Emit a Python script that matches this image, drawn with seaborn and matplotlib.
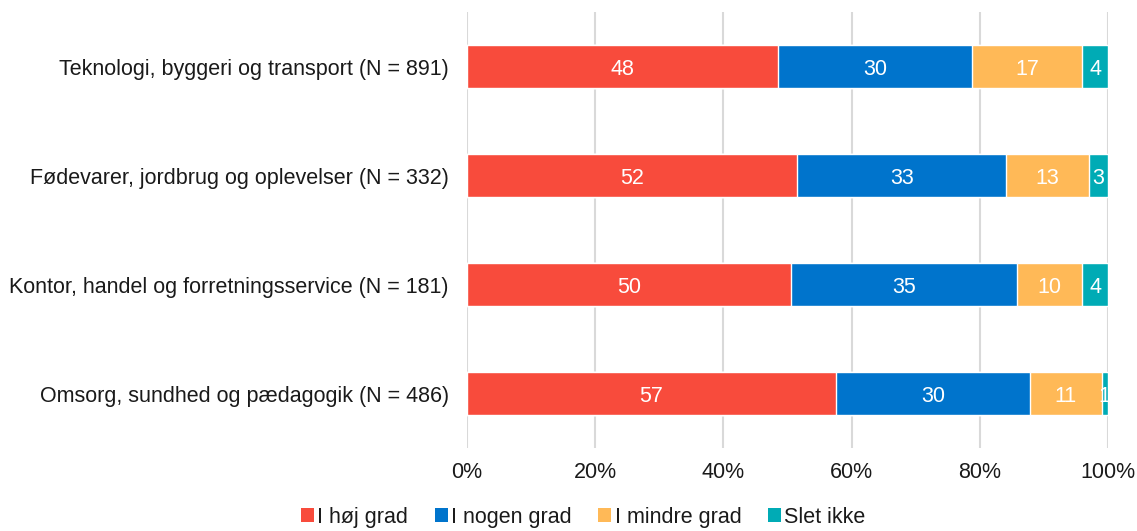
import numpy as np
import pandas as pd
import matplotlib
matplotlib.use("Agg")
import matplotlib.pyplot as plt
import seaborn as sns
from matplotlib.patches import Patch

categories = [
    "Teknologi, byggeri og transport (N = 891)",
    "Fødevarer, jordbrug og oplevelser (N = 332)",
    "Kontor, handel og forretningsservice (N = 181)",
    "Omsorg, sundhed og pædagogik (N = 486)",
]
series_names = ["I høj grad", "I nogen grad", "I mindre grad", "Slet ikke"]
hoej = [48, 52, 50, 57]
nogen = [30, 33, 35, 30]
mindre = [17, 13, 10, 11]
slet = [4, 3, 4, 1]
colors = ["#F84B3C", "#0074CC", "#FFB957", "#00ABB5"]
tick_labels = ["0%", "20%", "40%", "60%", "80%", "100%"]

sns.set_theme(style="white")
plt.rcParams["font.family"] = ["Liberation Sans", "DejaVu Sans"]

FS = 15.5

vals = np.array([hoej, nogen, mindre, slet], dtype=float)
share = vals / vals.sum(axis=0) * 100
cum = np.cumsum(share, axis=0)

fig = plt.figure(figsize=(11.37, 5.31), dpi=100)
ax = fig.add_axes([0.4107, 0.1563, 0.5638, 0.8211])

for i in range(len(series_names) - 1, -1, -1):
    df = pd.DataFrame({"cat": categories, "val": cum[i]})
    sns.barplot(data=df, y="cat", x="val", orient="h", color=colors[i],
                saturation=1, width=0.4, ax=ax, zorder=3)

for i in range(len(series_names)):
    starts = cum[i] - share[i]
    for j in range(len(categories)):
        ax.text(starts[j] + share[i][j] / 2, j, f"{int(vals[i][j])}",
                ha="center", va="center_baseline", color="white", fontsize=FS, zorder=4)

ax.set_xlim(0, 100)
ax.set_ylim(3.5, -0.5)
ax.set_xticks([0, 20, 40, 60, 80, 100])
ax.set_xticklabels(tick_labels)
ax.xaxis.grid(True, color="#D9D9D9", linewidth=1.5, zorder=0)
ax.set_axisbelow(True)
ax.set_xlabel("")
ax.set_ylabel("")
for s in ax.spines.values():
    s.set_visible(False)
ax.tick_params(axis="both", length=0, labelsize=FS, labelcolor="#1A1A1A")
ax.tick_params(axis="x", pad=10)
ax.tick_params(axis="y", pad=13)

handles = [Patch(facecolor=c, edgecolor="none") for c in colors]
fig.legend(handles, series_names, loc="lower center", bbox_to_anchor=(0.513, -0.03),
           ncol=4, frameon=False, fontsize=FS, handlelength=0.6, handleheight=0.6,
           handletextpad=0.15, columnspacing=1.25, labelcolor="#1A1A1A")

fig.savefig("out.png", dpi=100)
